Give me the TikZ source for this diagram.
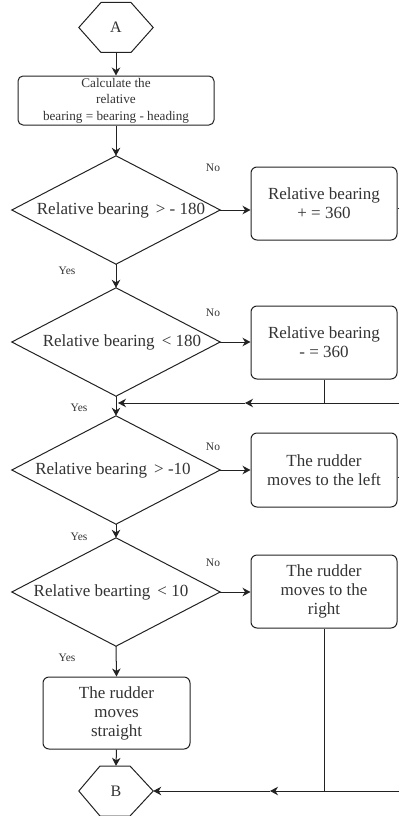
\documentclass[tikz,border=0pt]{standalone}
\usepackage{fontspec}
\setmainfont{Liberation Serif}
\usetikzlibrary{arrows.meta,calc}
\definecolor{txtcol}{HTML}{333333}
\definecolor{lncol}{HTML}{222222}
\begin{document}
\begin{tikzpicture}[x=1pt,y=-1pt,
  every node/.style={text=txtcol, font=\fontsize{17}{19}\selectfont},
  box/.style={draw=lncol, line width=1pt, rounded corners=6pt, align=center, inner sep=0pt},
  dia/.style={minimum width=208pt, minimum height=108pt, inner sep=0pt},
  hexa/.style={minimum width=74pt, minimum height=50pt, inner sep=0pt, font=\fontsize{16}{18}\selectfont},
  lab/.style={font=\fontsize{11.5}{13}\selectfont},
  wire/.style={draw=lncol, line width=1pt},
  arr/.style={wire, -{Stealth[length=8pt,width=8.5pt,inset=2.5pt]}},
]
\useasboundingbox (0,0) rectangle (399,816);

% hexagon A
\node[hexa] (A) at (116,27.5) {A};
\draw[wire] (A.west) -- ($(A.center)+(-15,-25)$) -- ($(A.center)+(15,-25)$) -- (A.east)
  -- ($(A.center)+(15,25)$) -- ($(A.center)+(-15,25)$) -- cycle;

% first box
\node[box, minimum width=196pt, minimum height=49pt, font=\fontsize{13.2}{16.5}\selectfont, rounded corners=5pt] (b1) at (116,100.5)
  {Calculate the\\relative\\bearing = bearing - heading};

% diamonds
\node[dia] (d1) at (116,210) {\hspace*{10pt}Relative bearing\ \,> - 180};
\node[dia] (d2) at (116,342) {\hspace*{12pt}Relative bearing\ \,< 180};
\node[dia] (d3) at (116,470) {Relative bearing\ \,> -10\hspace*{6pt}};
\node[dia] (d4) at (116,592) {Relative bearting\ \,< 10\hspace*{10pt}};
\foreach \d in {d1,d2,d3,d4}{
  \draw[wire] (\d.north) -- (\d.east) -- (\d.south) -- (\d.west) -- cycle;
}

% right boxes
\node[box, minimum width=146pt, minimum height=73pt] (b2) at (324,203.5) {Relative bearing\\+ = 360};
\node[box, minimum width=146pt, minimum height=73pt] (b2b) at (324,342.5) {Relative bearing\\- = 360};
\node[box, minimum width=146pt, minimum height=74pt] (b3) at (324,470) {The rudder\\moves to the left};
\node[box, minimum width=146pt, minimum height=73pt] (b4) at (324,591.5) {The rudder\\moves to the\\right};

% bottom box
\node[box, minimum width=147pt, minimum height=72pt] (b5) at (116.5,713) {The rudder\\moves\\straight};

% hexagon B
\node[hexa] (B) at (116,791) {B};
\draw[wire] (B.west) -- ($(B.center)+(-16,-25)$) -- ($(B.center)+(14,-25)$) -- (B.east)
  -- ($(B.center)+(14,25)$) -- ($(B.center)+(-16,25)$) -- cycle;

% labels
\node[lab] (n1) at (213,168) {No};
\node[lab] (n2) at (213,313) {No};
\node[lab] (n3) at (213,447) {No};
\node[lab] (n4) at (213,563) {No};
\node[lab] (y1) at (67,271) {Yes};
\node[lab] (y2) at (79,408) {Yes};
\node[lab] (y3) at (79,537) {Yes};
\node[lab] (y4) at (67,658) {Yes};

% coordinates
\coordinate (j1) at (324,403);
\coordinate (r1) at (399,403);
\coordinate (m1) at (245,403);
\coordinate (k1) at (118,403);
\coordinate (j2) at (324,791);
\coordinate (r2) at (399,791);
\coordinate (m2) at (270,791);
\coordinate (s1) at (399,208);
\coordinate (s2) at (399,477);

% connectors
\draw[arr] (A.south) -- (b1.north);
\draw[arr] (b1.south) -- (d1.north);
\draw[arr] (d1.east) -- (d1.east -| b2.west);
\draw[arr] (d1.south) -- (d2.north);
\draw[arr] (d2.east) -- (d2.east -| b2b.west);
\draw[arr] (d2.south) -- (d3.north);
\draw[wire] (b2b.south) -- (j1);
\draw[arr] (r1) -- (m1);
\draw[arr] (m1) -- (k1);
\draw[arr] (d3.east) -- (d3.east -| b3.west);
\draw[arr] (d3.south) -- (d4.north);
\draw[arr] (d4.east) -- (d4.east -| b4.west);
\draw[arr] (d4.south) -- (b5.north);
\draw[arr] (b5.south) -- (B.north);
\draw[wire] (b4.south) -- (j2);
\draw[arr] (r2) -- (m2);
\draw[arr] (m2) -- (B.east);
\draw[wire] (b2.east |- s1) -- (s1);
\draw[wire] (b3.east |- s2) -- (s2);
\end{tikzpicture}
\end{document}
